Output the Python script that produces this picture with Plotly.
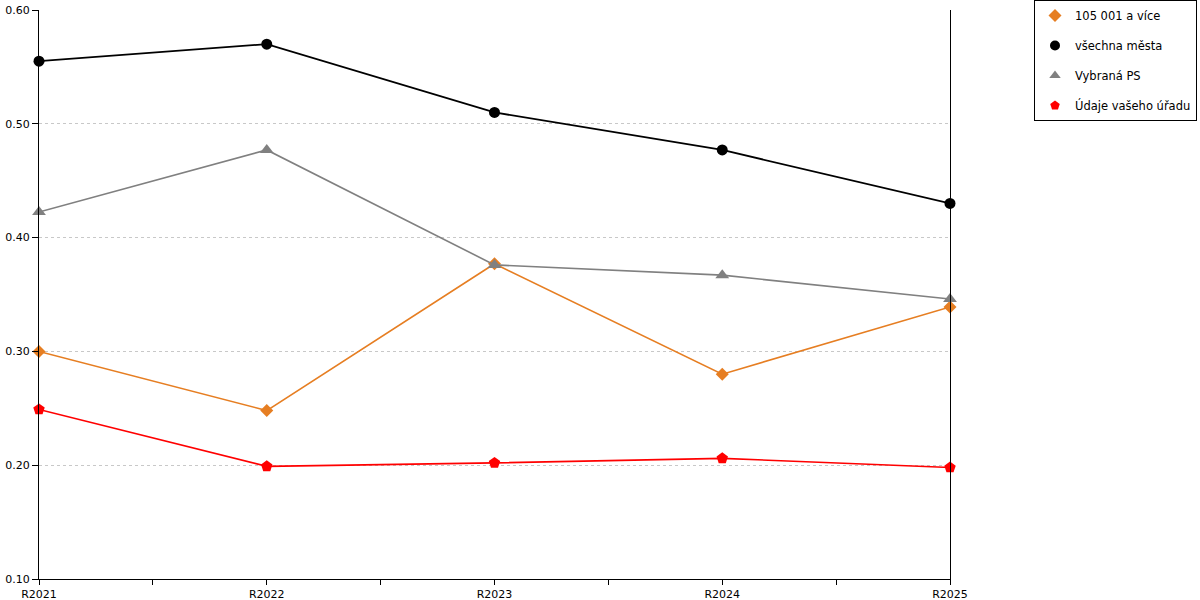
import plotly.graph_objects as go

years = ["R2021", "R2022", "R2023", "R2024", "R2025"]
velka_mesta = [0.300, 0.248, 0.377, 0.280, 0.339]
vsechna_mesta = [0.555, 0.570, 0.510, 0.477, 0.430]
vybrana_ps = [0.4225, 0.477, 0.376, 0.367, 0.346]
vas_urad = [0.249, 0.199, 0.202, 0.206, 0.198]

y_ticks = [0.10, 0.20, 0.30, 0.40, 0.50, 0.60]

series = [
    ("105 001 a více", velka_mesta, "#E67E22", "diamond", 10, 1.6),
    ("všechna města", vsechna_mesta, "#000000", "circle", 11, 1.8),
    ("Vybraná PS", vybrana_ps, "#808080", "triangle-up", 12, 1.6),
    ("Údaje vašeho úřadu", vas_urad, "#FF0000", "pentagon", 12, 1.6),
]

x = list(range(len(years)))

fig = go.Figure()
for name, vals, color, symbol, size, width in series:
    fig.add_trace(go.Scatter(
        x=x, y=vals, name=name, mode="lines+markers",
        line=dict(color=color, width=width),
        marker=dict(symbol=symbol, size=size, color=color),
        showlegend=False, cliponaxis=False,
    ))

# legend shows markers only, as in the original chart
for name, vals, color, symbol, size, width in series:
    fig.add_trace(go.Scatter(
        x=[None], y=[None], name=name, mode="markers",
        marker=dict(symbol=symbol, size=10, color=color),
        legendgroup=name,
    ))

# category ticks plus unlabeled ticks halfway between them
tickvals = [i / 2 for i in range(2 * len(years) - 1)]
ticktext = [years[int(v)] if v == int(v) else "" for v in tickvals]

fig.update_layout(
    width=1200, height=600,
    margin=dict(l=39, r=250, t=10, b=21, autoexpand=False),
    plot_bgcolor="white", paper_bgcolor="white",
    font=dict(family="DejaVu Sans", size=11, color="#000000"),
    xaxis=dict(
        range=[0, 4], tickvals=tickvals, ticktext=ticktext,
        ticks="outside", ticklen=5, tickcolor="black",
        showline=True, linecolor="black", linewidth=1,
        showgrid=False, zeroline=False, automargin=False,
    ),
    yaxis=dict(
        range=[0.10, 0.60], tickvals=y_ticks, tickformat=".2f",
        ticks="outside", ticklen=6, tickcolor="black",
        showline=True, linecolor="black", linewidth=1, mirror=True,
        showgrid=True, gridcolor="#c8c8c8", griddash="dot", gridwidth=1,
        zeroline=False, automargin=False,
    ),
    legend=dict(
        x=(1034 - 39) / 911, xanchor="left", y=1 + 10 / 569, yanchor="top",
        bordercolor="black", borderwidth=1,
        font=dict(family="DejaVu Sans", size=11.5),
        traceorder="grouped", tracegroupgap=11,
        itemwidth=30,
    ),
)

# drop the browser's default 8px body margin so the figure sits at the corner
fig.write_html(
    "out.html",
    config={"displayModeBar": False},
    post_script="document.body.style.margin = '0';",
)
